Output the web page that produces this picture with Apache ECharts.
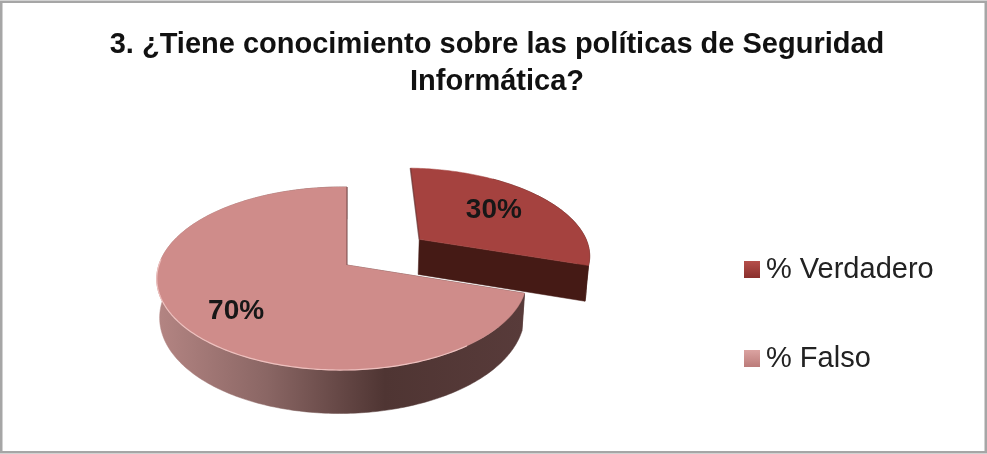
<!DOCTYPE html>
<html>
<head>
<meta charset="utf-8">
<style>
  html, body { margin: 0; padding: 0; background: #fff; }
  #chart { width: 987px; height: 454px; }
</style>
<script src="https://cdn.jsdelivr.net/npm/echarts@6/dist/echarts.min.js"></script>
</head>
<body>
<div id="chart"></div>
<script>
// Survey answers for question 3
const categories = ['% Verdadero', '% Falso'];
const percentages = [30, 70];
const titleLines = ['3. ¿Tiene conocimiento sobre las políticas de Seguridad', 'Informática?'];

// Slice appearance, in series order
const explode = [0.515, 0];
const labelReach = [0.62, 0.73];
const labelTurn = [-0.04, -0.08];
const rimSkip = [0.3, 0];
const topColors = ['#a5423f', '#cf8c8a'];
const legendColors = [['#b54f4b', '#8a2f2c'], ['#dba3a1', '#bb7b79']];
const rimStops = [
  [[0, '#451a15'], [1, '#451a15']],
  [[0, '#b48583'], [0.3, '#8a6664'], [0.62, '#4f3533'], [1, '#583b3a']]
];

// Perspective view of the unit disc: centre, radii, vanishing terms and extrusion
const view = { cx: 347, cy: 265, rx: 183, ry: 89.5, k: 0.1475, j: 0.027, depth: 37, taper: 0.985 };

function project(X, Y, lower) {
  const w = 1 + view.k * Y + view.j * X;
  let x = view.rx * X / w;
  let y = -view.ry * Y / w;
  if (lower) {
    x *= view.taper;
    y += view.depth / w;
  }
  return [view.cx + x, view.cy + y];
}

// Point of a slice at angle t (radians clockwise from twelve o'clock) and reach r
function slicePoint(t, r, offset, lower) {
  return project(offset[0] + r * Math.sin(t), offset[1] + r * Math.cos(t), lower);
}

function arcPoints(from, to, offset, lower) {
  const steps = Math.max(2, Math.ceil(Math.abs(to - from) / (Math.PI / 180)));
  const pts = [];
  for (let i = 0; i <= steps; i++) {
    pts.push(slicePoint(from + (to - from) * i / steps, 1, offset, lower));
  }
  return pts;
}

const total = percentages.reduce((a, b) => a + b, 0);
const starts = percentages.map((_, i) =>
  percentages.slice(0, i).reduce((a, b) => a + b, 0) / total * Math.PI * 2);

function renderSlice(index) {
  return function (params, api) {
    const value = api.value(0);
    const a0 = starts[index];
    const a1 = a0 + value / total * Math.PI * 2;
    const mid = (a0 + a1) / 2;
    const off = [explode[index] * Math.sin(mid), explode[index] * Math.cos(mid)];
    const rimFrom = a0 + rimSkip[index] * (a1 - a0);

    const upperArc = arcPoints(a0, a1, off, false);
    const rimUpper = arcPoints(rimFrom, a1, off, false);
    const rimLower = arcPoints(rimFrom, a1, off, true);
    const apex = slicePoint(0, 0, off, false);
    const apexLow = slicePoint(0, 0, off, true);
    const xs = upperArc.map(p => p[0]);
    const rimFill = new echarts.graphic.LinearGradient(
      Math.min.apply(null, xs), 0, Math.max.apply(null, xs), 0,
      rimStops[index].map(s => ({ offset: s[0], color: s[1] })), true);

    const wall = pts => ({
      type: 'polygon',
      shape: { points: pts },
      style: { fill: rimFill, stroke: rimFill, lineWidth: 0.5 }
    });

    // the wall that faces the viewer ends the clockwise sweep of the exploded slice
    const frontEdge = index === 0 ? rimUpper[rimUpper.length - 1] : rimUpper[0];
    const frontEdgeLow = index === 0 ? rimLower[rimLower.length - 1] : rimLower[0];

    const children = [
      wall([apex, frontEdge, frontEdgeLow, apexLow]),
      wall(rimUpper.concat(rimLower.slice().reverse())),
      {
        type: 'polygon',
        shape: { points: [apex].concat(upperArc) },
        style: { fill: topColors[index], stroke: topColors[index], lineWidth: 0.5 }
      },
      // soft dark line where the twelve o'clock edge falls away
      {
        type: 'polyline',
        shape: { points: index === 0
          ? [upperArc[0], apex]
          : [upperArc[upperArc.length - 1], apex] },
        style: { stroke: 'rgba(70,40,40,0.45)', lineWidth: 1.5, fill: 'none' }
      }
    ];

    if (index === 1) {
      // pale highlight along the front-left edge of the top face
      const edge = arcPoints(Math.PI * 0.8, Math.PI * 1.52, off, false);
      children.push({
        type: 'polyline',
        shape: { points: edge },
        style: { stroke: '#edc0be', lineWidth: 1.2, fill: 'none' }
      });
    }

    const labelAt = slicePoint(mid + labelTurn[index], labelReach[index], off, false);
    children.push({
      type: 'text',
      style: {
        text: value + '%',
        x: labelAt[0],
        y: labelAt[1],
        align: 'center',
        verticalAlign: 'middle',
        fill: '#171717',
        font: 'bold 28px "Liberation Sans", Arial, sans-serif'
      }
    });
    return { type: 'group', children: children };
  };
}

const chart = echarts.init(document.getElementById('chart'), null, { renderer: 'canvas' });
chart.setOption({
  animation: false,
  backgroundColor: '#ffffff',
  title: {
    text: titleLines.join('\n'),
    left: 492,
    top: 21,
    textAlign: 'center',
    textStyle: {
      fontFamily: '"Liberation Sans", Arial, sans-serif',
      fontWeight: 'bold',
      fontSize: 29,
      lineHeight: 37,
      color: '#111111'
    }
  },
  legend: {
    orient: 'vertical',
    left: 739,
    top: 250,
    itemWidth: 16,
    itemHeight: 17,
    itemGap: 60,
    icon: 'rect',
    data: categories,
    textStyle: {
      fontFamily: '"Liberation Sans", Arial, sans-serif',
      fontSize: 29,
      color: '#222222',
      padding: [0, 0, 0, 1]
    }
  },
  graphic: [{
    type: 'rect',
    silent: true,
    z: 0,
    shape: { x: 1.25, y: 1.75, width: 984.5, height: 450.5 },
    style: { fill: 'none', stroke: '#a6a6a6', lineWidth: 2.5 }
  }],
  series: categories.map((name, i) => ({
    type: 'custom',
    name: name,
    coordinateSystem: 'none',
    renderItem: renderSlice(i),
    itemStyle: {
      color: new echarts.graphic.LinearGradient(0, 0, 0, 1, [
        { offset: 0, color: legendColors[i][0] },
        { offset: 1, color: legendColors[i][1] }
      ])
    },
    data: [[percentages[i]]],
    silent: true,
    z: i + 2
  }))
});
</script>
</body>
</html>
